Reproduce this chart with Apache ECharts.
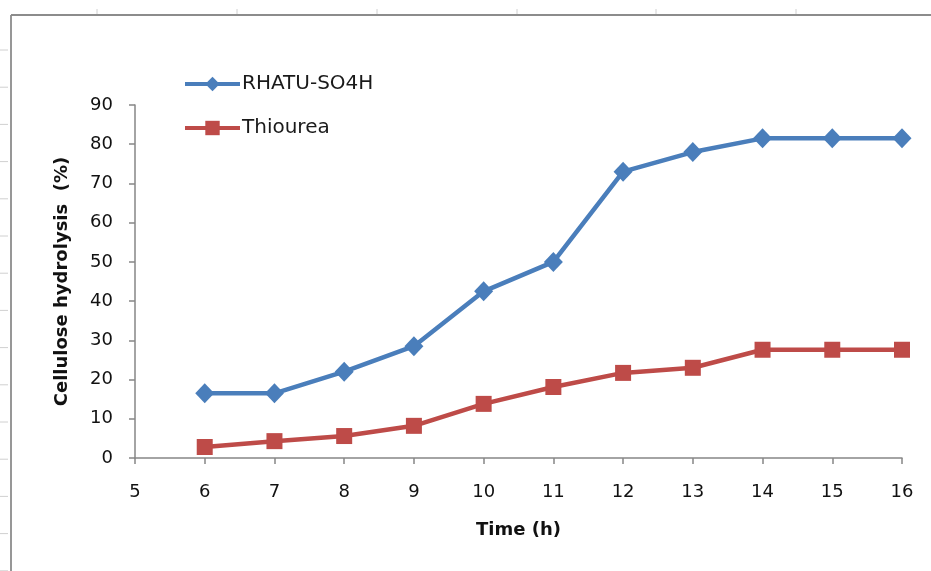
<!DOCTYPE html>
<html>
<head>
<meta charset="utf-8">
<script src="https://cdn.jsdelivr.net/npm/echarts@6/dist/echarts.min.js"></script>
<style>
  html, body { margin: 0; padding: 0; background: #fff; }
  #chart { width: 931px; height: 571px; }
</style>
</head>
<body>
<div id="chart"></div>
<script>
// Reaction time (h) and cellulose hydrolysis (%) for each catalyst
const timeHours = [6, 7, 8, 9, 10, 11, 12, 13, 14, 15, 16];
const rhatuSO4H = [16.5, 16.5, 22, 28.5, 42.5, 50, 73, 78, 81.5, 81.5, 81.5];
const thiourea = [2.8, 4.3, 5.6, 8.2, 13.8, 18.1, 21.7, 23, 27.6, 27.6, 27.6];
const seriesNames = ['RHATU-SO4H', 'Thiourea'];

const FONT = 'DejaVu Sans';
const AXIS_GRAY = '#868686';
const BLUE = '#4a7ebb';
const RED = '#be4b48';

const pair = (xs, ys) => xs.map((x, i) => [x, ys[i]]);

// Outer sheet frame with small cell marks along its edges
const frame = [
  { type: 'line', shape: { x1: 11, y1: 15, x2: 931, y2: 15 }, style: { stroke: '#8c8c8c', lineWidth: 1.8 } },
  { type: 'line', shape: { x1: 11, y1: 15, x2: 11, y2: 571 }, style: { stroke: '#8c8c8c', lineWidth: 1.8 } }
];
[97, 237, 377, 517, 656, 796].forEach(x => {
  frame.push({ type: 'line', shape: { x1: x, y1: 9, x2: x, y2: 14 }, style: { stroke: '#d0d0d0', lineWidth: 1 } });
});
for (let y = 50; y < 571; y += 37.2) {
  frame.push({ type: 'line', shape: { x1: 0, y1: y, x2: 8, y2: y }, style: { stroke: '#d0d0d0', lineWidth: 1 } });
}

const chart = echarts.init(document.getElementById('chart'), null, { renderer: 'canvas' });
chart.setOption({
  animation: false,
  backgroundColor: '#ffffff',
  graphic: frame,
  grid: { left: 135, right: 29, top: 105, bottom: 113 },
  legend: {
    orient: 'vertical',
    left: 183,
    top: 74,
    padding: 0,
    itemWidth: 55,
    itemHeight: 18,
    itemGap: 24,
    data: seriesNames,
    lineStyle: { width: 4 },
    textStyle: { fontFamily: FONT, fontSize: 20, lineHeight: 18, color: '#1a1a1a', padding: [0, 0, 0, -3] }
  },
  xAxis: {
    type: 'value',
    min: 5,
    max: 16,
    interval: 1,
    name: 'Time (h)',
    nameLocation: 'middle',
    nameGap: 63,
    nameTextStyle: { fontFamily: FONT, fontSize: 18, fontWeight: 'bold', color: '#111' },
    axisLine: { lineStyle: { color: AXIS_GRAY, width: 1.5 } },
    axisTick: { show: true, inside: false, length: 6, lineStyle: { color: AXIS_GRAY, width: 1.5 } },
    axisLabel: { margin: 25, fontFamily: FONT, fontSize: 18, color: '#111' },
    splitLine: { show: false }
  },
  yAxis: {
    type: 'value',
    min: 0,
    max: 90,
    interval: 10,
    name: 'Cellulose hydrolysis  (%)',
    nameLocation: 'middle',
    nameGap: 64,
    nameTextStyle: { fontFamily: FONT, fontSize: 18, fontWeight: 'bold', color: '#111' },
    axisLine: { show: true, lineStyle: { color: AXIS_GRAY, width: 1.5 } },
    axisTick: { show: true, inside: false, length: 6, lineStyle: { color: AXIS_GRAY, width: 1.5 } },
    axisLabel: { margin: 22, fontFamily: FONT, fontSize: 18, color: '#111' },
    splitLine: { show: false }
  },
  series: [
    {
      name: seriesNames[0],
      type: 'line',
      data: pair(timeHours, rhatuSO4H),
      symbol: 'diamond',
      symbolSize: [19, 20],
      showAllSymbol: true,
      itemStyle: { color: BLUE },
      lineStyle: { color: BLUE, width: 4.5 },
      z: 3
    },
    {
      name: seriesNames[1],
      type: 'line',
      data: pair(timeHours, thiourea),
      symbol: 'rect',
      symbolSize: 16,
      showAllSymbol: true,
      itemStyle: { color: RED },
      lineStyle: { color: RED, width: 4.5 },
      z: 2
    }
  ]
});
</script>
</body>
</html>
